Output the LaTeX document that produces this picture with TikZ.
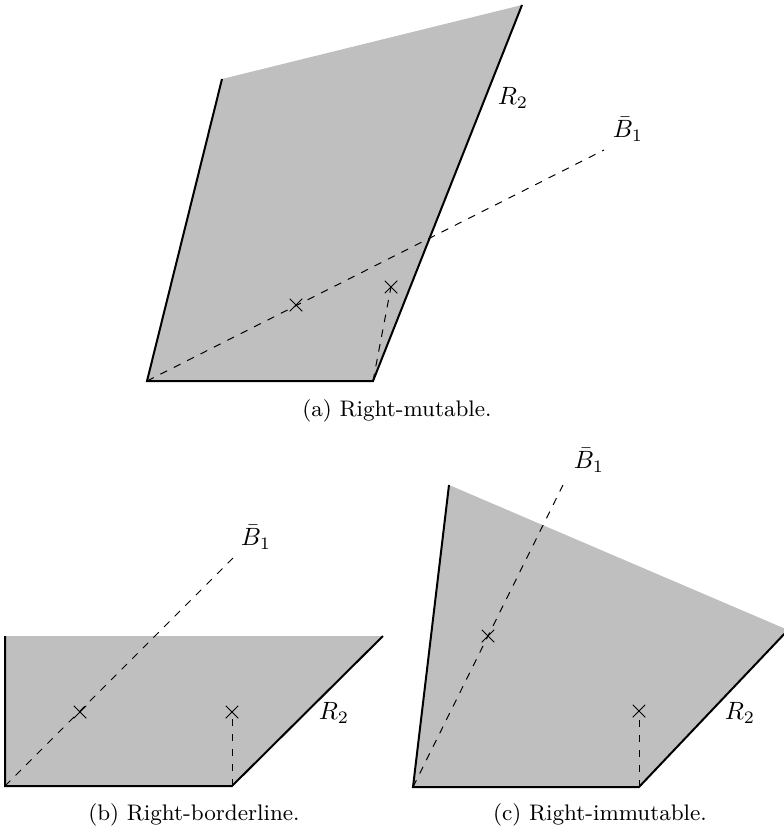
\documentclass[tikz,border=0pt]{standalone}
\usepackage{amsmath, amssymb}
\usepackage{tikz}
\usetikzlibrary{shapes.misc}
\usepackage{xcolor}

\tikzset{
  region/.style={fill=gray!50, draw=none},
  edge/.style={thick},
  ray/.style={dashed, thin},
  crosspt/.style={cross out, draw, thin, inner sep=0pt, minimum size=4.6pt},
  subcap/.style={font=\small},
}

\begin{document}
\begin{tikzpicture}[x=0.4pt,y=-0.4pt]
  \useasboundingbox (0,0) rectangle (784,833);
  % (a) Right-mutable
  \coordinate (a1) at (147,381);
  \coordinate (a2) at (373,381);
  \coordinate (a3) at (522,5);
  \coordinate (a4) at (222,79);
  \coordinate (ea) at (604,150);
  \fill[region] (a1) -- (a2) -- (a3) -- (a4) -- cycle;
  \draw[edge] (a4) -- (a1) -- (a2) -- (a3);
  \node (Ra) at (513,98) {$R_2$};
  \node (Ba) at (628,129) {$\bar{B}_1$};
  \draw[ray] (a1) -- (ea);
  \node[crosspt] (xa1) at (296,305) {};
  \node[crosspt] (xa2) at (391,287) {};
  \draw[ray] (a2) -- (xa2.center);
  \node[subcap] (capa) at (397,411) {(a) Right-mutable.};
  % (b) Right-borderline
  \coordinate (b1) at (5,786);
  \coordinate (b2) at (232,786);
  \coordinate (b3) at (383,636);
  \coordinate (b4) at (5,636);
  \coordinate (eb) at (233,558);
  \fill[region] (b1) -- (b2) -- (b3) -- (b4) -- cycle;
  \draw[edge] (b4) -- (b1) -- (b2) -- (b3);
  \node (Rb) at (334,713) {$R_2$};
  \node (Bb) at (256,537) {$\bar{B}_1$};
  \draw[ray] (b1) -- (eb);
  \node[crosspt] (xb1) at (80,712) {};
  \node[crosspt] (xb2) at (232,712) {};
  \draw[ray] (b2) -- (xb2.center);
  \node[subcap] (capb) at (194,815) {(b) Right-borderline.};
  % (c) Right-immutable
  \coordinate (c1) at (413,787);
  \coordinate (c2) at (639,787);
  \coordinate (c3) at (788,630);
  \coordinate (c4) at (449,485);
  \coordinate (ec) at (563,485);
  \fill[region] (c1) -- (c2) -- (c3) -- (c4) -- cycle;
  \draw[edge] (c4) -- (c1) -- (c2) -- (c3);
  \node (Rc) at (740,713) {$R_2$};
  \node (Bc) at (589,460) {$\bar{B}_1$};
  \draw[ray] (c1) -- (ec);
  \node[crosspt] (xc1) at (488,636) {};
  \node[crosspt] (xc2) at (639,711) {};
  \draw[ray] (c2) -- (xc2.center);
  \node[subcap] (capc) at (600,815) {(c) Right-immutable.};
\end{tikzpicture}
\end{document}
